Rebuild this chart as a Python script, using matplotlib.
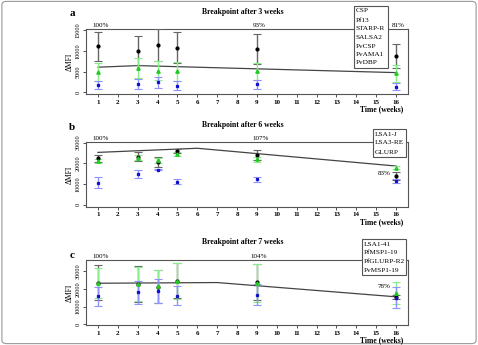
import matplotlib
matplotlib.use("Agg")
import matplotlib.pyplot as plt
from matplotlib.patches import FancyBboxPatch, Rectangle

# --- data ---------------------------------------------------------------
weeks = [1, 3, 4, 5, 9, 16]

black_a = [11100, 10050, 11420, 10780, 10500, 8770]
black_a_err = [3500, 3550, 3780, 3800, 3650, 2900]
green_a = [4900, 5800, 5220, 5070, 5050, 4590]
green_a_err = [2100, 2400, 2200, 2300, 2000, 2100]
blue_a = [1700, 2000, 2400, 1600, 1900, 1350]
blue_a_err = [950, 1200, 1400, 1000, 1000, 900]
fit_a_x = [1, 3, 16]
fit_a_y = [6040, 6430, 4740]

black_b = [22400, 23100, 20500, 25900, 24000, 14000]
black_b_err = [1700, 2200, 2500, 1000, 2400, 2000]
green_b = [21200, 22800, 21400, 24500, 22000, 17900]
green_b_err = [1000, 1200, 1300, 1000, 1300, 800]
blue_b = [10700, 14800, 17000, 11100, 12300, 11500]
blue_b_err = [2500, 2100, 300, 1300, 1300, 1000]
fit_b_x = [1, 6, 16]
fit_b_y = [25300, 27300, 18700]

black_c = [23600, 22900, 21400, 24800, 24000, 15300]
black_c_err = [10000, 10000, 9300, 10000, 10200, 1200]
green_c = [23300, 22700, 21600, 24600, 23400, 17600]
green_c_err = [8500, 9700, 9300, 10400, 10700, 6300]
blue_c = [15900, 18200, 18900, 16300, 16800, 15100]
blue_c_err = [5500, 6400, 6800, 5600, 5900, 5800]
fit_c_x = [1, 7, 16]
fit_c_y = [23300, 23700, 15600]

titles = ["Breakpoint after 3 weeks", "Breakpoint after 6 weeks", "Breakpoint after 7 weeks"]
panel_tags = ["a", "b", "c"]
antigens_a = ["CSP", "Pf13", "STARP-R", "SALSA2", "PvCSP", "PvAMA1", "PvDBP"]
antigens_b = ["LSA1-J", "LSA3-RE", "GLURP"]
antigens_c = ["LSA1-41", "PfMSP1-19", "PfGLURP-R2", "PvMSP1-19"]

# percent labels: (week, value or None = above frame, text)
pct_a = [(1.15, None, "100%"), (9.1, None, "93%"), (16.1, None, "81%")]
pct_b = [(1.15, None, "100%"), (9.2, None, "107%"), (15.4, 15200, "83%")]
pct_c = [(1.15, None, "100%"), (9.1, None, "104%"), (15.4, 21400, "78%")]

W, H = 478, 345
SERIF = "Liberation Serif"


def fx(x):
    return x / W


def fy(y):
    return 1 - y / H


def draw_panel(fig, box, ylim, yticks, series, fit_x, fit_y, pct, title, tag,
               title_y, tag_y, xlab_y, legend, leg_box, leg_lines):
    left, top, right, bottom = box
    ax = fig.add_axes([fx(left), fy(bottom), (right - left) / W, (bottom - top) / H])
    ax.set_xlim(0.4, 16.6)
    ax.set_ylim(*ylim)

    styles = [
        ("black", "o", 2.0, "#666666", "#222222"),
        ("#22cc22", "^", 2.4, "#88ee88", "#22aa22"),
        ("#1111cc", "s", 1.4, "#9090ff", "#2222cc"),
    ]
    for (vals, errs), (col, mk, ms, ecol, ccol) in zip(series, styles):
        _, caps, bars = ax.errorbar(weeks, vals, yerr=errs, fmt=mk, color=col, ms=ms,
                                    ecolor=ecol, elinewidth=1.0, capsize=3, capthick=0.8,
                                    zorder=3)
        for c in caps:
            c.set_color(ccol)

    ax.plot(fit_x, fit_y, color="#444444", lw=0.9, zorder=2)

    for wk, val, txt in pct:
        if val is None:
            ax.text(wk, 1.02, txt, transform=ax.get_xaxis_transform(), ha="center",
                    va="bottom", fontsize=5, family=SERIF)
        else:
            ax.text(wk, val, txt, ha="center", va="center", fontsize=5, family=SERIF)

    ax.set_xticks(range(1, 17))
    ax.set_xticklabels([str(i) for i in range(1, 17)], fontsize=5, family=SERIF,
                       fontweight="bold")
    ax.set_yticks(yticks)
    ax.set_yticklabels([str(t) for t in yticks], fontsize=4.5, family=SERIF,
                       rotation=90, va="center")
    ax.tick_params(length=2.5, width=0.6, color="#333333", pad=1.5)
    for s in ax.spines.values():
        s.set_color("#555555")
        s.set_linewidth(0.8)

    fig.text(fx(70), fy((top + bottom) / 2), "ΔMFI", rotation=90, ha="center",
             va="center", fontsize=5.5, family=SERIF)
    fig.text(fx(243), fy(title_y), title, ha="center", va="center", fontsize=5.5,
             family=SERIF, fontweight="bold")
    fig.text(fx(72), fy(tag_y), tag, ha="center", va="center", fontsize=8,
             family=SERIF, fontweight="bold")
    fig.text(fx(403), fy(xlab_y), "Time (weeks)", ha="right", va="center",
             fontsize=5.5, family=SERIF, fontweight="bold")

    lx0, ly0, lx1, ly1 = leg_box
    fig.patches.append(Rectangle((fx(lx0), fy(ly1)), (lx1 - lx0) / W, (ly1 - ly0) / H,
                                 transform=fig.transFigure, facecolor="white",
                                 edgecolor="#555555", lw=0.8, zorder=5))
    for name, ly in zip(legend, leg_lines):
        fig.text(fx(lx0 + 2), fy(ly), name, ha="left", va="center", fontsize=5.2,
                 family=SERIF, zorder=6)
    return ax


fig = plt.figure(figsize=(W / 100, H / 100), dpi=100)

draw_panel(fig, (86, 29, 408, 94), (-410, 15240), [0, 5000, 10000, 15000],
           [(black_a, black_a_err), (green_a, green_a_err), (blue_a, blue_a_err)],
           fit_a_x, fit_a_y, pct_a, titles[0], panel_tags[0], 12, 13, 109,
           antigens_a, (354, 6, 388, 68), [11, 20, 29, 37.7, 46.3, 54.7, 63])

draw_panel(fig, (86, 142, 408, 206.7), (-970, 30330), [0, 10000, 20000, 30000],
           [(black_b, black_b_err), (green_b, green_b_err), (blue_b, blue_b_err)],
           fit_b_x, fit_b_y, pct_b, titles[1], panel_tags[1], 125, 128, 222,
           antigens_b, (373, 129, 406, 157), [134, 143, 152])

draw_panel(fig, (86, 260, 408, 325), (-400, 36500), [0, 10000, 20000, 30000],
           [(black_c, black_c_err), (green_c, green_c_err), (blue_c, blue_c_err)],
           fit_c_x, fit_c_y, pct_c, titles[2], panel_tags[2], 242, 255, 340,
           antigens_c, (362, 239, 406, 275), [244.3, 252.7, 261.7, 270.7])

fig.patches.append(FancyBboxPatch((0.004, 0.004), 0.992, 0.992,
                                  boxstyle="round,pad=0,rounding_size=0.01",
                                  transform=fig.transFigure, facecolor="none",
                                  edgecolor="#999999", lw=0.8))

fig.savefig("out.png", dpi=100)
